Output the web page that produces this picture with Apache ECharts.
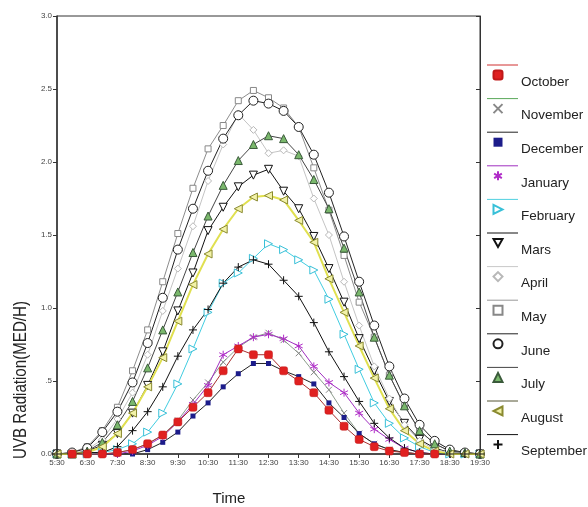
<!DOCTYPE html>
<html>
<head>
<meta charset="utf-8">
<script src="https://cdn.jsdelivr.net/npm/echarts@6/dist/echarts.min.js"></script>
<style>html,body{margin:0;padding:0;background:#fff}#c{width:588px;height:507px}</style>
</head>
<body>
<div id="c"></div>
<script>
// ---- data ----
var times = ['5:30','6:00','6:30','7:00','7:30','8:00','8:30','9:00','9:30','10:00','10:30','11:00','11:30','12:00','12:30','13:00','13:30','14:00','14:30','15:00','15:30','16:00','16:30','17:00','17:30','18:00','18:30','19:00','19:30'];
var monthNames = ['October','November','December','January','February','Mars','April','May','June','July','August','September'];
var yTicks = [0, 0.5, 1.0, 1.5, 2.0, 2.5, 3.0];
var october   = [null,0,0,0,0.01,0.03,0.07,0.13,0.22,0.32,0.42,0.57,0.72,0.68,0.68,0.57,0.50,0.42,0.30,0.19,0.10,0.05,0.02,0.01,0,0,null,null,null];
var november  = [0,0,0,0,0.01,0.03,0.07,0.13,0.23,0.37,0.49,0.63,0.73,0.80,0.83,0.78,0.69,0.56,0.44,0.28,0.14,0.07,0.03,0.01,0,0,0,0,0];
var december  = [0,0,0,0,0,0,0.03,0.08,0.15,0.26,0.35,0.46,0.55,0.62,0.62,0.57,0.53,0.48,0.35,0.25,0.14,0.07,0.03,0.01,0,0,0,0,0];
var january   = [0,0,0,0,0,0.02,0.06,0.12,0.22,0.34,0.47,0.68,0.74,0.80,0.82,0.79,0.74,0.60,0.49,0.42,0.28,0.17,0.10,0.04,0.01,0,0,0,0];
var february  = [0,0,0,0.01,0.03,0.07,0.15,0.28,0.48,0.72,0.97,1.17,1.24,1.34,1.44,1.40,1.33,1.26,1.06,0.82,0.58,0.35,0.21,0.11,0.05,0.01,0,0,0];
var mars      = [0,0,0.02,0.06,0.14,0.28,0.47,0.70,0.98,1.24,1.53,1.69,1.83,1.91,1.95,1.80,1.68,1.49,1.27,1.04,0.79,0.57,0.36,0.21,0.10,0.04,0.01,0,0];
var april     = [0,0,0.03,0.10,0.24,0.42,0.68,0.98,1.27,1.56,1.87,2.12,2.33,2.22,2.06,2.08,2.04,1.75,1.50,1.18,0.88,0.60,0.38,0.20,0.09,0.03,0.01,0,0];
var may       = [0,0.01,0.05,0.16,0.32,0.57,0.85,1.18,1.51,1.82,2.09,2.25,2.42,2.49,2.44,2.37,2.24,1.96,1.67,1.36,1.04,0.80,0.54,0.33,0.16,0.07,0.02,0.01,0];
var june      = [0,0.01,0.04,0.15,0.29,0.49,0.76,1.07,1.40,1.68,1.94,2.16,2.32,2.42,2.40,2.35,2.24,2.05,1.79,1.49,1.18,0.88,0.60,0.38,0.20,0.09,0.03,0.01,0];
var july      = [0,0,0.02,0.08,0.20,0.36,0.59,0.85,1.11,1.38,1.63,1.84,2.01,2.12,2.18,2.16,2.05,1.88,1.68,1.41,1.11,0.80,0.54,0.33,0.16,0.07,0.02,0.01,0];
var august    = [0,0,0.01,0.05,0.14,0.28,0.46,0.66,0.91,1.16,1.37,1.54,1.68,1.76,1.77,1.74,1.60,1.45,1.20,0.97,0.74,0.52,0.31,0.16,0.07,0.02,0,0,0];
var september = [0,0,0.01,0.01,0.05,0.16,0.29,0.46,0.67,0.85,0.99,1.17,1.28,1.33,1.30,1.19,1.08,0.90,0.70,0.53,0.36,0.21,0.11,0.04,0.01,0,0,0,0];
var seriesValues = [october,november,december,january,february,mars,april,may,june,july,august,september];

// ---- styles ----
var styles = [
  {line:'#a83030', legendLine:'#d03030', symbol:'roundRect', size:8, fill:'#e02020', border:'#c01818', bw:0.5, z:4},
  {line:'#8c9c8c', legendLine:'#5aa85a', symbol:'path://M0,0L10,10M10,0L0,10', size:6, fill:'#888', border:'#888', bw:1},
  {line:'#222',    legendLine:'#222',    symbol:'rect', size:5, fill:'#1c1c8a', border:'#1c1c8a', bw:0},
  {line:'#a030c0', legendLine:'#a030c0', symbol:'path://M5,0L5,10M0.7,2.5L9.3,7.5M0.7,7.5L9.3,2.5', size:8, fill:'#b02cc8', border:'#b02cc8', bw:1},
  {line:'#40cce0', legendLine:'#50d0e0', symbol:'path://M0,0L10,5L0,10Z', size:8, fill:'#fff', border:'#38c0d8', bw:1},
  {line:'#111',    legendLine:'#111',    symbol:'path://M0,0L10,0L5,9Z', size:8, fill:'#fff', border:'#111', bw:1},
  {line:'#c4c4c4', legendLine:'#c8c8c8', symbol:'diamond', size:7, fill:'#fff', border:'#b8b8b8', bw:1},
  {line:'#8c8c8c', legendLine:'#999',    symbol:'rect', size:6, fill:'#fff', border:'#888', bw:1},
  {line:'#222',    legendLine:'#222',    symbol:'circle', size:9, fill:'#fff', border:'#222', bw:1},
  {line:'#444',    legendLine:'#444',    symbol:'triangle', size:8, fill:'#7ab86c', border:'#3a5a3a', bw:1},
  {line:'#e0e050', legendLine:'#555533', symbol:'path://M10,0L0,5L10,10Z', size:8, fill:'#f2f2a8', border:'#8a8a30', bw:1, lw:2},
  {line:'#111',    legendLine:'#111',    symbol:'path://M5,0L5,10M0,5L10,5', size:8, fill:'#111', border:'#111', bw:1}
];

var series = monthNames.map(function (name, k) {
  var s = styles[k];
  return {
    name: name, type: 'line', data: seriesValues[k],
    symbol: s.symbol, symbolSize: s.size, showSymbol: true, showAllSymbol: true,
    z: s.z || 2, connectNulls: false,
    lineStyle: {color: s.line, width: s.lw || 1},
    itemStyle: {color: s.fill, borderColor: s.border, borderWidth: s.bw},
    emphasis: {disabled: true}
  };
});

var legendStep = 33.6, firstIconY = 75, firstTextY = 82, firstLineY = 65;
var graphics = monthNames.map(function (name, k) {
  var y = firstLineY + k * legendStep;
  return {type:'line', shape:{x1:487, y1:y, x2:518, y2:y}, style:{stroke: styles[k].legendLine, lineWidth:1}, silent:true};
});
graphics.push({type:'text', x:21, y:380, rotation:Math.PI/2, scaleX:0.84,
  style:{text:'UVB Radiation(MED/H)', font:'18px "Liberation Sans", Arial, sans-serif', fill:'#222',
         textAlign:'center', textVerticalAlign:'middle', align:'center', verticalAlign:'middle'}});
graphics.push({type:'text', x:229, y:499,
  style:{text:'Time', font:'15px "Liberation Sans", Arial, sans-serif', fill:'#222',
         textAlign:'center', textVerticalAlign:'middle', align:'center', verticalAlign:'middle'}});

var legendItems = monthNames.map(function (n, k) { return {name:n, icon: styles[k].symbol}; });

var chart = echarts.init(document.getElementById('c'), null, {renderer:'canvas'});
chart.setOption({
  animation: false,
  backgroundColor: '#fff',
  grid: {left:57, right:108, top:16, bottom:53, show:true, borderColor:'#333', borderWidth:1},
  xAxis: {
    type:'category', data: times, boundaryGap:false,
    axisLine:{lineStyle:{color:'#333', width:1.5}},
    axisTick:{interval:1, length:4, lineStyle:{color:'#333'}},
    axisLabel:{interval:1, fontSize:8, color:'#444', margin:5, fontFamily:'"Liberation Sans", Arial, sans-serif'},
    splitLine:{show:false}
  },
  yAxis: [{
    type:'value', min:yTicks[0], max:yTicks[yTicks.length-1], interval:0.5,
    axisLine:{show:true, lineStyle:{color:'#333', width:1.5}},
    axisTick:{show:true, length:4, lineStyle:{color:'#333'}},
    axisLabel:{fontSize:8, color:'#444', margin:5, fontFamily:'"Liberation Sans", Arial, sans-serif',
      formatter:function (v) { return v === 0.5 ? '.5' : v.toFixed(1); }},
    splitLine:{show:false}
  }, {
    type:'value', position:'right', min:yTicks[0], max:yTicks[yTicks.length-1], interval:0.5,
    axisLine:{show:true, lineStyle:{color:'#333'}},
    axisTick:{show:true, inside:true, length:4, lineStyle:{color:'#333'}},
    axisLabel:{show:false}, splitLine:{show:false}
  }],
  legend: [{
    // marker column
    orient:'vertical', left:492.5, top:firstIconY - 8, padding:0,
    itemWidth:9, itemHeight:9, itemGap:legendStep - 16, symbolKeepAspect:true,
    data: legendItems,
    formatter: function () { return ' '; },
    textStyle:{fontSize:10, lineHeight:16},
    selectedMode:false
  }, {
    // label column
    orient:'vertical', left:515, top:firstTextY - 8, padding:0,
    itemWidth:1, itemHeight:1, itemGap:legendStep - 16,
    icon:'none',
    data: monthNames,
    textStyle:{fontSize:13.5, color:'#222', fontFamily:'"Liberation Sans", Arial, sans-serif', lineHeight:16},
    selectedMode:false
  }],
  graphic: graphics,
  series: series
});
</script>
</body>
</html>
